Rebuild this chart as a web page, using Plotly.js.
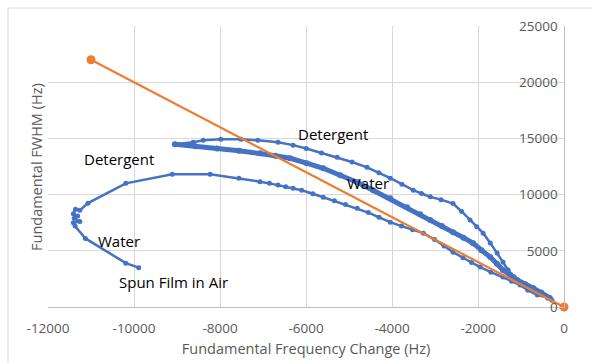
<!DOCTYPE html>
<html>
<head>
<meta charset="utf-8">
<script src="https://cdn.plot.ly/plotly-3.0.1.min.js"></script>
<style>html,body{margin:0;padding:0;background:#fff;}#chart{width:600px;height:363px;}</style>
</head>
<body>
<div id="chart"></div>
<script>
// Spun film in air -> water -> detergent (first pass, lower branch)
const run1X = [-9890, -10190, -11130, -11370, -11410, -11260, -11390, -11310, -11410, -11360, -11260, -11070, -10190, -9110, -8230, -7560, -7070, -6850, -6650, -6470, -6300, -6100, -5840, -5600, -5340, -5080, -4810, -4550, -4300, -4040, -3780, -3520, -3270, -3010, -2790, -2580, -2350, -2150, -1950, -1700, -1420, -1220, -1020, -840, -620, -330];
const run1Y = [3500, 3900, 6100, 7200, 7500, 7600, 7900, 8100, 8300, 8700, 8600, 9240, 11000, 11800, 11800, 11450, 11150, 11000, 10850, 10700, 10570, 10380, 10080, 9770, 9450, 9120, 8790, 8400, 7980, 7550, 7200, 6880, 6570, 6000, 5420, 4880, 4380, 3950, 3550, 3100, 2660, 2300, 1950, 1500, 1070, 800];
// Water (second pass, middle branch)
const waterX = [-330, -530, -720, -910, -1090, -1250, -1420, -1560, -1715, -1920, -2115, -2340, -2580, -2840, -3110, -3345, -3650, -4040, -4440, -4810, -5205, -5600, -5985, -6370, -6715, -7070, -7560, -8070, -8575, -9050];
const waterY = [800, 1300, 1690, 2050, 2400, 2850, 3290, 3850, 4440, 5060, 5680, 6170, 6660, 7200, 7750, 8250, 8880, 9680, 10390, 11100, 11720, 12340, 12800, 13230, 13460, 13680, 13900, 14100, 14300, 14470];
// Detergent (second pass, upper branch)
const detX = [-9050, -8625, -8390, -7980, -7510, -7120, -6650, -6300, -5995, -5640, -5275, -4930, -4580, -4305, -4040, -3770, -3505, -3315, -3110, -2860, -2580, -2380, -2185, -2030, -1880, -1715, -1555, -1420, -1300, -1160, -1020, -865, -720, -530, -380, -280];
const detY = [14470, 14650, 14830, 14920, 14920, 14830, 14650, 14400, 14100, 13700, 13320, 12900, 12430, 11950, 11460, 10930, 10390, 10100, 9800, 9550, 9200, 8500, 7730, 7150, 6570, 5700, 4800, 4000, 3290, 2700, 2130, 1800, 1510, 1100, 800, 600];
// Straight reference line
const refX = [-11000, 0];
const refY = [22000, 0];

const xTicks = [-12000, -10000, -8000, -6000, -4000, -2000, 0];
const yTicks = [0, 5000, 10000, 15000, 20000, 25000];

const labels = [
  {text: 'Detergent', x: -5371, y: 15362},
  {text: 'Water', x: -4557, y: 11011},
  {text: 'Detergent', x: -10349, y: 13142},
  {text: 'Water', x: -10349, y: 5861},
  {text: 'Spun Film in Air', x: -9093, y: 2220}
];

const BLUE = '#4472C4', ORANGE = '#ED7D31', GRAY = '#595959';

const traces = [
  {x: run1X, y: run1Y, mode: 'lines+markers', line: {color: BLUE, width: 2.5}, marker: {color: BLUE, size: 5}, hoverinfo: 'x+y'},
  {x: waterX, y: waterY, mode: 'lines+markers', line: {color: BLUE, width: 5}, marker: {color: BLUE, size: 6}, hoverinfo: 'x+y'},
  {x: detX, y: detY, mode: 'lines+markers', line: {color: BLUE, width: 2.5}, marker: {color: BLUE, size: 5}, hoverinfo: 'x+y'},
  {x: refX, y: refY, mode: 'lines+markers', line: {color: ORANGE, width: 2.25}, marker: {color: ORANGE, size: 9}, cliponaxis: false, hoverinfo: 'x+y'}
];

const annotations = labels.map(l => ({
  text: l.text, x: l.x, y: l.y, xref: 'x', yref: 'y', showarrow: false,
  font: {family: 'Open Sans, sans-serif', size: 15, color: '#000'}
}));
annotations.push({
  text: 'Fundamental FWHM (Hz)', xref: 'paper', yref: 'paper', x: 0.0, y: 0.50,
  xanchor: 'right', yanchor: 'middle',
  textangle: -90, showarrow: false, font: {family: 'Open Sans, sans-serif', size: 14.5, color: GRAY}
});

const layout = {
  width: 600, height: 363,
  margin: {l: 48, r: 36, t: 26, b: 56},
  paper_bgcolor: '#fff', plot_bgcolor: '#fff',
  showlegend: false,
  font: {family: 'Open Sans, sans-serif', color: GRAY},
  xaxis: {
    range: [-12000, 0], tickvals: xTicks, ticktext: xTicks.map(String),
    showgrid: true, gridcolor: '#d9d9d9', gridwidth: 1, zeroline: false,
    showline: true, linecolor: '#bfbfbf', ticks: '', ticklabelstandoff: 9,
    ticklabeloverflow: 'allow',
    tickfont: {size: 13.5, color: GRAY},
    title: {text: 'Fundamental Frequency Change (Hz)', font: {size: 14.5, color: GRAY}, standoff: 7}
  },
  yaxis: {
    range: [0, 25000], tickvals: yTicks, ticktext: yTicks.map(String),
    side: 'right', ticklabelposition: 'inside', ticklabeloverflow: 'allow',
    ticklabelstandoff: 6,
    showgrid: true, gridcolor: '#d9d9d9', gridwidth: 1, zeroline: false,
    showline: true, linecolor: '#bfbfbf', ticks: '',
    tickfont: {size: 13.5, color: GRAY}
  },
  annotations: annotations,
  shapes: [
    {type: 'line', xref: 'paper', yref: 'paper', x0: -0.0775, x1: 1.054, y0: 1.064, y1: 1.064, line: {color: '#d9d9d9', width: 1}},
    {type: 'line', xref: 'paper', yref: 'paper', x0: -0.0775, x1: -0.0775, y0: 1.064, y1: -0.3, line: {color: '#d9d9d9', width: 1}}
  ]
};

Plotly.newPlot('chart', traces, layout, {displayModeBar: false, staticPlot: true});
</script>
</body>
</html>
